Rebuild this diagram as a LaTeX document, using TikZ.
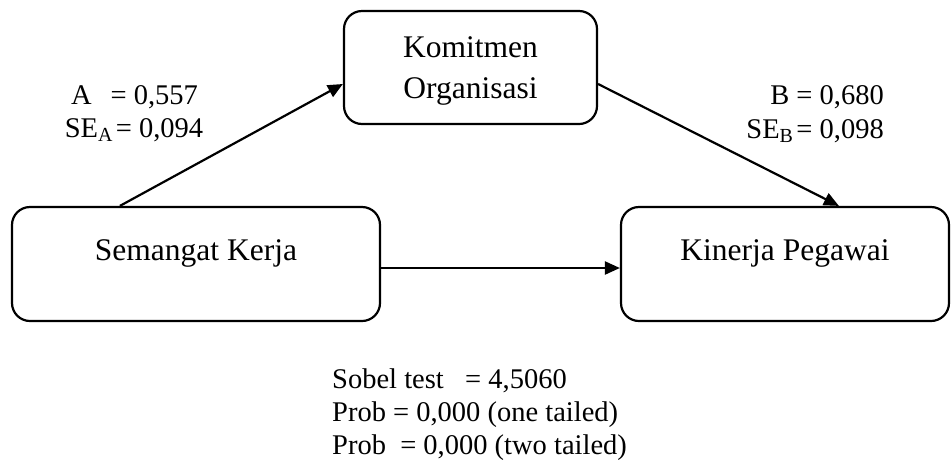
\documentclass[tikz,border=0pt]{standalone}
\usepackage{fontspec}
\setmainfont{Liberation Serif}
\usetikzlibrary{arrows.meta}
\tikzset{
  box/.style={draw, line width=2.2pt, rounded corners=18pt, inner sep=0pt},
  boxfont/.style={font=\fontsize{31.5pt}{41pt}\selectfont},
  lblfont/.style={font=\fontsize{28.5pt}{33pt}\selectfont, inner sep=0pt},
  arr/.style={line width=2.2pt, -{Triangle[length=15pt,width=13pt]}},
}
\begin{document}
\begin{tikzpicture}[x=1pt,y=-1pt]
\useasboundingbox (0,0) rectangle (952,459);
\node[box, boxfont, align=center, minimum width=253pt, minimum height=113pt, text depth=-2pt] (ko) at (470.5,67.5) {Komitmen\\Organisasi};
\node[box, boxfont, minimum width=368pt, minimum height=114pt, text height=12pt, text depth=20pt] (sk) at (196,264) {Semangat Kerja};
\node[box, boxfont, minimum width=328pt, minimum height=114pt, text height=12pt, text depth=20pt] (kp) at (785,264) {Kinerja Pegawai};

\draw[arr] ([xshift=109pt]sk.north west) -- ([yshift=-16.5pt]ko.west);
\draw[arr] ([yshift=-16.5pt]ko.east) -- ([xshift=219pt]kp.north west);
\draw[arr] ([yshift=-4pt]sk.east) -- ([yshift=-4pt]kp.west);

\node[lblfont, anchor=base] (a1) at (134.5,104) {A\hspace{19pt}= 0,557};
\node[lblfont, anchor=base] (a2) at (134,137) {SE\textsubscript{A}\hspace{3pt}= 0,094};
\node[lblfont, anchor=base east] (b1) at (884,104) {B = 0,680};
\node[lblfont, anchor=base east] (b2) at (884,138) {SE\textsubscript{B}\hspace{3pt}= 0,098};

\node[lblfont, anchor=base west] (s1) at (332,388) {Sobel test\ \ \ = 4,5060};
\node[lblfont, anchor=base west] (s2) at (332,421) {Prob = 0,000 (one tailed)};
\node[lblfont, anchor=base west] (s3) at (332,454) {Prob\ \ = 0,000 (two tailed)};
\end{tikzpicture}
\end{document}
